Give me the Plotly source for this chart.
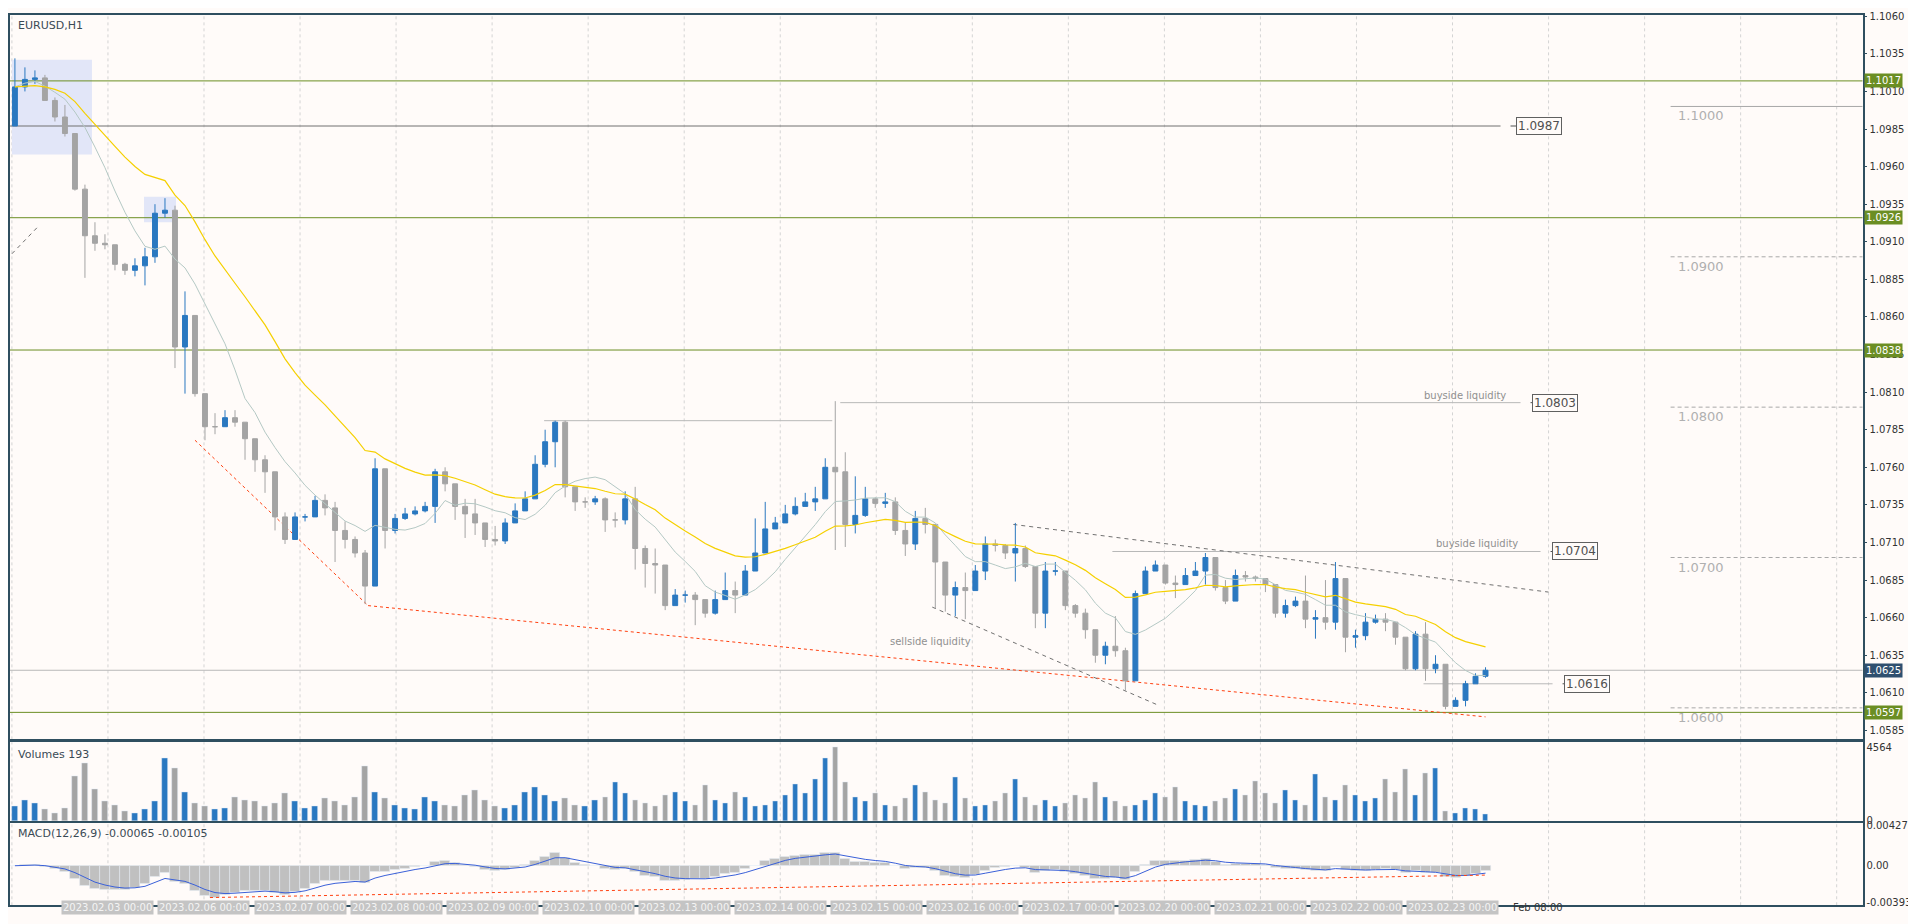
import plotly.graph_objects as go
from plotly.subplots import make_subplots
import pandas as pd

# hourly EURUSD (one bar every ~2.5h of the original)
closes = [1.1013, 1.1018, 1.1019, 1.1004, 1.0993, 1.0982, 1.0945, 1.0914, 1.0909, 1.0908,
          1.0895, 1.0891, 1.0894, 1.0900, 1.0929, 1.0931, 1.0840, 1.0861, 1.0809, 1.0787,
          1.0787, 1.0793, 1.0790, 1.0779, 1.0765, 1.0757, 1.0727, 1.0712, 1.0727, 1.0727,
          1.0738, 1.0733, 1.0718, 1.0712, 1.0703, 1.0681, 1.0759, 1.0718, 1.0726, 1.0729,
          1.0731, 1.0734, 1.0757, 1.0749, 1.0734, 1.0729, 1.0723, 1.0712, 1.0711, 1.0723,
          1.0731, 1.0739, 1.0762, 1.0777, 1.0790, 1.0747, 1.0737, 1.0737, 1.0739, 1.0725,
          1.0725, 1.0739, 1.0706, 1.0696, 1.0695, 1.0668, 1.0675, 1.0675, 1.0672, 1.0663,
          1.0672, 1.0678, 1.0675, 1.0691, 1.0703, 1.0719, 1.0723, 1.0729, 1.0734, 1.0737,
          1.0739, 1.0760, 1.0757, 1.0722, 1.0728, 1.0739, 1.0736, 1.0737, 1.0718, 1.0709,
          1.0726, 1.0722, 1.0697, 1.0675, 1.0680, 1.0678, 1.0691, 1.0709, 1.0708, 1.0703,
          1.0706, 1.0694, 1.0663, 1.0691, 1.0691, 1.0668, 1.0663, 1.0652, 1.0635, 1.0641,
          1.0638, 1.0618, 1.0676, 1.0691, 1.0695, 1.0683, 1.0682, 1.0688, 1.0691, 1.0700,
          1.0680, 1.0671, 1.0688, 1.0687, 1.0686, 1.0682, 1.0663, 1.0668, 1.0671, 1.0659,
          1.0660, 1.0657, 1.0686, 1.0647, 1.0648, 1.0657, 1.0659, 1.0657, 1.0647, 1.0626,
          1.0649, 1.0626, 1.0629, 1.0601, 1.0605, 1.0616, 1.0621, 1.0625]
highs = [1.1032, 1.1026, 1.1024, 1.1021, 1.1006, 1.1001, 1.0982, 1.0948, 1.0923, 1.0915,
         1.0908, 1.0896, 1.0899, 1.0906, 1.0935, 1.0939, 1.0934, 1.0877, 1.0861, 1.0796,
         1.0796, 1.0798, 1.0798, 1.0790, 1.0779, 1.0768, 1.0755, 1.0730, 1.0730, 1.0729,
         1.0741, 1.0742, 1.0737, 1.0724, 1.0714, 1.0705, 1.0766, 1.0759, 1.0729, 1.0733,
         1.0734, 1.0737, 1.0759, 1.0760, 1.0745, 1.0739, 1.0739, 1.0723, 1.0721, 1.0726,
         1.0736, 1.0744, 1.0768, 1.0785, 1.0791, 1.0791, 1.0746, 1.0740, 1.0741, 1.0740,
         1.0730, 1.0744, 1.0747, 1.0708, 1.0706, 1.0685, 1.0679, 1.0678, 1.0677, 1.0669,
         1.0678, 1.0690, 1.0684, 1.0695, 1.0726, 1.0737, 1.0727, 1.0735, 1.0740, 1.0743,
         1.0747, 1.0766, 1.0804, 1.0770, 1.0754, 1.0747, 1.0740, 1.0743, 1.0740, 1.0723,
         1.0731, 1.0733, 1.0708, 1.0687, 1.0684, 1.0690, 1.0695, 1.0714, 1.0712, 1.0709,
         1.0723, 1.0708, 1.0694, 1.0697, 1.0697, 1.0674, 1.0669, 1.0666, 1.0652, 1.0644,
         1.0661, 1.0640, 1.0678, 1.0694, 1.0698, 1.0695, 1.0688, 1.0693, 1.0697, 1.0703,
         1.0697, 1.0685, 1.0692, 1.0691, 1.0688, 1.0686, 1.0674, 1.0672, 1.0674, 1.0688,
         1.0665, 1.0685, 1.0697, 1.0660, 1.0652, 1.0663, 1.0662, 1.0663, 1.0657, 1.0647,
         1.0651, 1.0657, 1.0635, 1.0626, 1.0607, 1.0618, 1.0623, 1.0627]
lows = [1.0987, 1.1010, 1.1015, 1.1004, 1.0990, 1.0980, 1.0944, 1.0886, 1.0904, 1.0905,
        1.0891, 1.0888, 1.0887, 1.0881, 1.0896, 1.0926, 1.0826, 1.0809, 1.0807, 1.0778,
        1.0782, 1.0787, 1.0787, 1.0765, 1.0757, 1.0743, 1.0718, 1.0709, 1.0720, 1.0724,
        1.0734, 1.0728, 1.0697, 1.0706, 1.0700, 1.0669, 1.0682, 1.0706, 1.0716, 1.0725,
        1.0728, 1.0730, 1.0723, 1.0744, 1.0725, 1.0713, 1.0715, 1.0707, 1.0708, 1.0709,
        1.0723, 1.0733, 1.0739, 1.0760, 1.0760, 1.0740, 1.0731, 1.0733, 1.0735, 1.0717,
        1.0720, 1.0722, 1.0692, 1.0680, 1.0676, 1.0665, 1.0669, 1.0670, 1.0655, 1.0660,
        1.0662, 1.0672, 1.0663, 1.0676, 1.0697, 1.0712, 1.0720, 1.0725, 1.0728, 1.0734,
        1.0731, 1.0739, 1.0705, 1.0707, 1.0716, 1.0727, 1.0733, 1.0733, 1.0715, 1.0701,
        1.0705, 1.0716, 1.0666, 1.0664, 1.0661, 1.0659, 1.0685, 1.0685, 1.0704, 1.0699,
        1.0684, 1.0693, 1.0653, 1.0653, 1.0688, 1.0665, 1.0660, 1.0646, 1.0630, 1.0629,
        1.0634, 1.0611, 1.0637, 1.0680, 1.0692, 1.0682, 1.0673, 1.0682, 1.0688, 1.0682,
        1.0678, 1.0669, 1.0682, 1.0684, 1.0684, 1.0677, 1.0660, 1.0660, 1.0667, 1.0653,
        1.0646, 1.0652, 1.0652, 1.0637, 1.0640, 1.0645, 1.0656, 1.0651, 1.0642, 1.0625,
        1.0625, 1.0618, 1.0623, 1.0599, 1.0601, 1.0601, 1.0617, 1.0620]
volumes = [900, 1300, 1100, 700, 500, 800, 2800, 3600, 2000, 1200,
           1000, 600, 500, 700, 1200, 3900, 3300, 1800, 1100, 900,
           700, 800, 1500, 1300, 1200, 900, 1100, 1700, 1200, 800,
           900, 1400, 1200, 1000, 1500, 3400, 1800, 1400, 1000, 800,
           700, 1500, 1200, 1000, 900, 1600, 1900, 1300, 900, 800,
           1000, 1800, 2100, 1600, 1200, 1400, 1000, 900, 1300, 1500,
           2400, 1700, 1300, 1100, 900, 1600, 1800, 1200, 1000, 2200,
           1300, 1100, 1800, 1500, 900, 1000, 1200, 1600, 2300, 1700,
           2600, 3900, 4564, 2400, 1500, 1200, 1700, 1000, 900, 1400,
           2200, 1800, 1300, 1100, 2700, 1400, 900, 1000, 1200, 1700,
           2600, 1500, 1000, 1300, 900, 1100, 1600, 1400, 2400, 1500,
           1200, 900, 1000, 1300, 1700, 1500, 2100, 1200, 1000, 900,
           1200, 1400, 2000, 1600, 2500, 1700, 1100, 1900, 1300, 1000,
           2900, 1500, 1300, 2200, 1600, 1200, 1400, 2600, 1800, 3200,
           1600, 3000, 3300, 600, 500, 800, 700, 400]
first_open = 1.0987
day_labels = ["2023.02.03 00:00", "2023.02.06 00:00", "2023.02.07 00:00", "2023.02.08 00:00",
              "2023.02.09 00:00", "2023.02.10 00:00", "2023.02.13 00:00", "2023.02.14 00:00",
              "2023.02.15 00:00", "2023.02.16 00:00", "2023.02.17 00:00", "2023.02.20 00:00",
              "2023.02.21 00:00", "2023.02.22 00:00", "2023.02.23 00:00"]
green_levels = [1.1017, 1.0926, 1.0838, 1.0597]
round_levels = [1.1000, 1.0900, 1.0800, 1.0700, 1.0600]
current_price = 1.0625

BG = "#fffbf9"
FRAME = "#2f4f60"
UP = "#2a78c0"
DOWN = "#a4a4a4"
FONT = "DejaVu Sans"
XEND = 0.968
XRIGHT = 1852  # screen px of the right frame

n = len(closes)
idx = list(range(n))
opens = [first_open] + closes[:-1]
highs = [max(h, o, c) for h, o, c in zip(highs, opens, closes)]
lows = [min(l, o, c) for l, o, c in zip(lows, opens, closes)]

s = pd.Series(closes)
ma_fast = s.rolling(8, min_periods=1).mean()
ma_slow = s.ewm(span=22, adjust=False).mean()
macd = s.ewm(span=5, adjust=False).mean() - s.ewm(span=10, adjust=False).mean()
signal = macd.ewm(span=4, adjust=False).mean()


def px(x):
    # screen pixel -> bar index (bars are 10 px apart starting at 5 px)
    return (x - 5) / 10.0


fig = make_subplots(rows=3, cols=1, shared_xaxes=True)

fig.add_trace(go.Candlestick(x=idx, open=opens, high=highs, low=lows, close=closes,
                             increasing=dict(line=dict(color=UP, width=1), fillcolor=UP),
                             decreasing=dict(line=dict(color=DOWN, width=1), fillcolor=DOWN),
                             whiskerwidth=0, showlegend=False, hoverinfo="skip"), row=1, col=1)
fig.add_trace(go.Scatter(x=idx, y=ma_fast, mode="lines", line=dict(color="#b4c8c4", width=1),
                         showlegend=False), row=1, col=1)
fig.add_trace(go.Scatter(x=idx, y=ma_slow, mode="lines", line=dict(color="#f5d000", width=1.2),
                         showlegend=False), row=1, col=1)

vcolors = [UP if c >= o else DOWN for o, c in zip(opens, closes)]
fig.add_trace(go.Bar(x=idx, y=volumes, marker_color=vcolors, width=0.55, showlegend=False),
              row=2, col=1)
fig.add_trace(go.Bar(x=idx, y=macd, marker_color="#c0c0c0", width=1.0, showlegend=False),
              row=3, col=1)
fig.add_trace(go.Scatter(x=idx, y=signal, mode="lines", line=dict(color="#3a60d8", width=1),
                         showlegend=False), row=3, col=1)
fig.add_trace(go.Scatter(x=[px(200), px(1475)], y=[-0.0034, -0.0010], mode="lines",
                         line=dict(color="#ff4010", width=1, dash="dot"), showlegend=False),
              row=3, col=1)

shapes = []


def seg(x0, x1, y0, y1, color, width=1, dash="solid", ref="y"):
    shapes.append(dict(type="line", xref="x", yref=ref, x0=px(x0), x1=px(x1), y0=y0, y1=y1,
                       line=dict(color=color, width=width, dash=dash), layer="below"))


# day grid
for k in range(20):
    xg = 2 + 96 * k
    if xg > XRIGHT - 5:
        break
    for ref in ["y", "y2", "y3"]:
        seg(xg, xg, -10 if ref != "y2" else -100, 10 if ref != "y2" else 10000,
            "#d4d4d4", 1, "3px,3px", ref)

# highlighted zones
shapes.append(dict(type="rect", xref="x", yref="y", x0=px(2), x1=px(82), y0=1.0968, y1=1.1031,
                   fillcolor="#e2e6f8", line=dict(width=0), layer="below"))
shapes.append(dict(type="rect", xref="x", yref="y", x0=px(134), x1=px(166), y0=1.0923, y1=1.0940,
                   fillcolor="#e2e6f8", line=dict(width=0), layer="below"))

for lv in green_levels:
    seg(0, XRIGHT, lv, lv, "#6b8e23", 1)
seg(0, XRIGHT, current_price, current_price, "#b8b8b8", 1)
seg(0, 1490, 1.0987, 1.0987, "#707070", 1)
seg(534, 822, 1.0791, 1.0791, "#b8b8b8", 1)
seg(830, 1510, 1.0803, 1.0803, "#b8b8b8", 1)
seg(1102, 1530, 1.0704, 1.0704, "#b8b8b8", 1)
seg(1413, 1542, 1.0616, 1.0616, "#b8b8b8", 1)
for lv in round_levels:
    seg(1660, XRIGHT, lv, lv, "#a8a8a8", 1, "4px,3px" if lv != 1.1 else "solid")

seg(185, 358, 1.0778, 1.0668, "#ff4010", 1, "dot")
seg(358, 1475, 1.0668, 1.0594, "#ff4010", 1, "dot")
seg(1003, 1538, 1.0722, 1.0677, "#707070", 1, "4px,4px")
seg(922, 1147, 1.0667, 1.0602, "#707070", 1, "4px,4px")
seg(2, 28, 1.0902, 1.0920, "#707070", 1, "4px,4px")

annotations = []
boxes = [(1.0987, 1490, 1528), (1.0803, 1510, 1544), (1.0704, 1530, 1564), (1.0616, 1542, 1576)]
for lv, x_end, x_box in boxes:
    seg(x_end + 10, x_box - 18, lv, lv, "#505050", 1)
    annotations.append(dict(x=px(x_box), y=lv, xref="x", yref="y", text=f"{lv:.4f}",
                            showarrow=False, font=dict(family=FONT, size=12, color="#505050"),
                            bordercolor="#606060", borderwidth=1, borderpad=1, bgcolor=BG))
for lv in round_levels:
    annotations.append(dict(x=px(1665), y=lv, xref="x", yref="y", text=f"{lv:.4f}",
                            xanchor="left", yanchor="top", showarrow=False,
                            font=dict(family=FONT, size=13, color="#b0b0b0")))
annotations.append(dict(x=px(1454), y=1.0803, xref="x", yref="y", text="buyside liquidity",
                        yanchor="bottom", showarrow=False,
                        font=dict(family=FONT, size=10, color="#909090")))
annotations.append(dict(x=px(1466), y=1.0704, xref="x", yref="y", text="buyside liquidity",
                        yanchor="bottom", showarrow=False,
                        font=dict(family=FONT, size=10, color="#909090")))
annotations.append(dict(x=px(920), y=1.0644, xref="x", yref="y", text="sellside liquidity",
                        showarrow=False, font=dict(family=FONT, size=10, color="#909090")))

# price badges on the right axis
for lv in green_levels:
    annotations.append(dict(x=XEND + 0.0008, y=lv, xref="paper", yref="y", text=f"{lv:.4f}",
                            xanchor="left", showarrow=False, bgcolor="#6b8e23",
                            font=dict(family=FONT, size=10, color="white"), borderpad=1))
annotations.append(dict(x=XEND + 0.0008, y=current_price, xref="paper", yref="y",
                        text=f"{current_price:.4f}", xanchor="left", showarrow=False,
                        bgcolor="#2f4f6f", font=dict(family=FONT, size=10, color="white"),
                        borderpad=1))

# panel titles
title_font = dict(family=FONT, size=11, color="#3a4a55")
annotations.append(dict(x=0.004, y=0.995, xref="paper", yref="paper", text="EURUSD,H1",
                        xanchor="left", yanchor="top", showarrow=False, font=title_font))
annotations.append(dict(x=0.004, y=0.198, xref="paper", yref="paper", text="Volumes 193",
                        xanchor="left", yanchor="top", showarrow=False, font=title_font))
annotations.append(dict(x=0.004, y=0.112, xref="paper", yref="paper",
                        text="MACD(12,26,9) -0.00065 -0.00105",
                        xanchor="left", yanchor="top", showarrow=False, font=title_font))

# time labels
for k, lab in enumerate(day_labels, start=1):
    annotations.append(dict(x=px(2 + 96 * k), y=0.013, xref="x", yref="paper", text=lab,
                            showarrow=False, bgcolor="#c4c4c4",
                            font=dict(family=FONT, size=10, color="#f4f4f4")))
annotations.append(dict(x=px(1500), y=0.013, xref="x", yref="paper", text="Feb 08:00",
                        xanchor="left", showarrow=False,
                        font=dict(family=FONT, size=10, color="#333333")))

xr = [px(0), px(XRIGHT)]
ax_common = dict(showgrid=False, zeroline=False, showline=True, linecolor=FRAME, mirror=True,
                 linewidth=1.5)
fig.update_layout(
    width=1916, height=924, paper_bgcolor=BG, plot_bgcolor=BG,
    margin=dict(l=0, r=0, t=0, b=0), bargap=0, barmode="overlay",
    font=dict(family=FONT, size=10, color="#333333"),
    shapes=shapes, annotations=annotations,
    xaxis=dict(domain=[0.001, XEND], range=xr, showticklabels=False,
               rangeslider=dict(visible=False), **ax_common),
    xaxis2=dict(domain=[0.001, XEND], range=xr, showticklabels=False, **ax_common),
    xaxis3=dict(domain=[0.001, XEND], range=xr, showticklabels=False, **ax_common),
    yaxis=dict(domain=[0.205, 0.997], range=[1.0579, 1.1061], side="right",
               tickvals=[1.0585 + 0.0025 * i for i in range(20)], tickformat=".4f",
               ticks="outside", ticklen=3, tickcolor=FRAME, **ax_common),
    yaxis2=dict(domain=[0.116, 0.202], range=[0, 4900], side="right",
                tickvals=[0, 4564], ticktext=["0", "4564"], **ax_common),
    yaxis3=dict(domain=[0.024, 0.114], range=[-0.0042, 0.0046], side="right",
                tickvals=[-0.00393, 0, 0.00427], ticktext=["-0.00393", "0.00", "0.00427"],
                **ax_common),
)
fig.update_xaxes(rangeslider_visible=False)

fig.write_html("out.html")
